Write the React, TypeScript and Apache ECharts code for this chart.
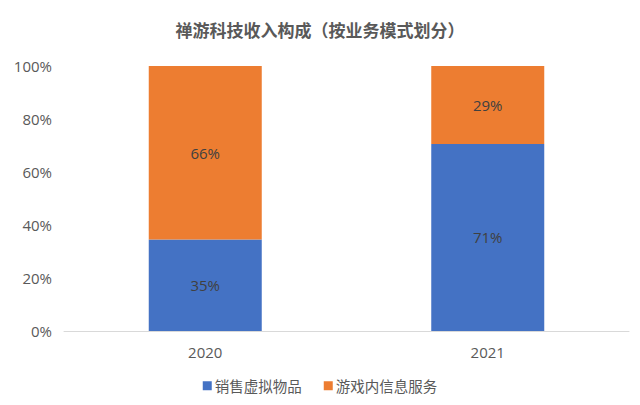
import { useEffect, useRef } from 'react';
import * as echarts from 'echarts';

const title = '禅游科技收入构成（按业务模式划分）';
const years = ['2020', '2021'];
const seriesNames = ['销售虚拟物品', '游戏内信息服务'];
const virtualGoods = [34.5, 70.6];
const infoServices = [65.5, 29.4];
const yTicks = [0, 20, 40, 60, 80, 100];

const App: React.FC = () => {
    const chartRef = useRef<HTMLDivElement | null>(null);

    useEffect(() => {
        document.body.style.margin = '0';
        if (!chartRef.current) return;
        const chart = echarts.init(chartRef.current, null, { renderer: 'svg' });

        const label = {
            show: true,
            position: 'inside',
            color: '#404040',
            fontSize: 15,
            fontFamily: 'Open Sans',
            formatter: (p: any) => Math.round(p.value) + '%'
        };

        chart.setOption({
            animation: false,
            backgroundColor: '#ffffff',
            title: {
                text: title,
                left: 'center',
                top: 16,
                textStyle: {
                    color: '#595959',
                    fontSize: 17,
                    fontWeight: 'bold',
                    fontFamily: 'Noto Sans CJK SC'
                }
            },
            legend: {
                bottom: 7,
                left: 'center',
                itemWidth: 9,
                itemHeight: 9,
                itemGap: 22,
                icon: 'rect',
                textStyle: { color: '#595959', fontSize: 14.5, fontFamily: 'Noto Sans CJK SC', padding: [0, 0, 0, -2] },
                data: seriesNames
            },
            grid: { left: 64, right: 11, top: 66, bottom: 74 },
            xAxis: {
                type: 'category',
                data: years,
                axisLine: { lineStyle: { color: '#d9d9d9', width: 1 } },
                axisTick: { show: false },
                axisLabel: { color: '#595959', fontSize: 15, fontFamily: 'Open Sans', margin: 13 }
            },
            yAxis: {
                type: 'value',
                min: yTicks[0],
                max: yTicks[yTicks.length - 1],
                interval: 20,
                splitLine: { show: false },
                axisLine: { show: false },
                axisTick: { show: false },
                axisLabel: {
                    color: '#595959',
                    fontSize: 15,
                    fontFamily: 'Open Sans',
                    margin: 12,
                    formatter: (v: number) => v + '%'
                }
            },
            series: [
                {
                    name: seriesNames[0],
                    type: 'bar',
                    stack: 'total',
                    barWidth: '40%',
                    data: virtualGoods,
                    itemStyle: { color: '#4472c4' },
                    label
                },
                {
                    name: seriesNames[1],
                    type: 'bar',
                    stack: 'total',
                    barWidth: '40%',
                    data: infoServices,
                    itemStyle: { color: '#ed7d31' },
                    label
                }
            ]
        });

        return () => {
            chart.dispose();
        };
    }, []);

    return <div ref={chartRef} style={{ width: '640px', height: '405px' }} />;
};

export default App;
